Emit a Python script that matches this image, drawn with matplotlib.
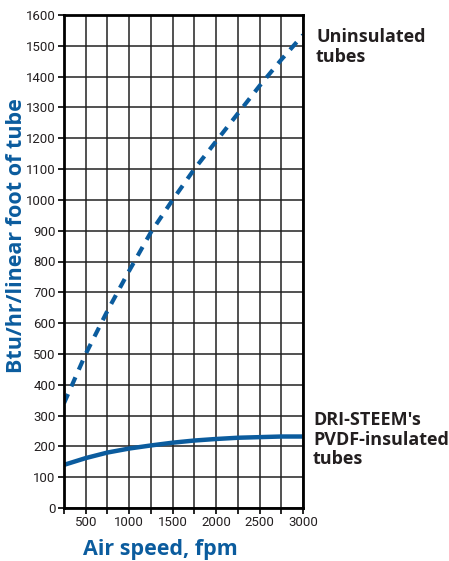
import matplotlib
matplotlib.use("Agg")
import matplotlib.pyplot as plt
import numpy as np

# values
air_speed = [250, 500, 750, 1000, 1250, 1500, 1750, 2000, 2250, 2500, 2750, 3000]
uninsulated = [340, 500, 640, 770, 895, 1000, 1100, 1190, 1280, 1370, 1455, 1535]
insulated = [140, 162, 180, 193, 203, 212, 219, 224, 228, 230, 232, 232]

x_labels = [500, 1000, 1500, 2000, 2500, 3000]
y_ticks = list(range(0, 1700, 100))

blue = '#0b5c9e'
dark = '#231f20'
tick_font = ['Roboto', 'DejaVu Sans']
bold_font = ['Open Sans', 'DejaVu Sans']

fig = plt.figure(figsize=(4.49, 5.61), dpi=100)
ax = fig.add_axes([64 / 449, 1 - 508 / 561, (303 - 64) / 449, (508 - 15) / 561])

ax.plot(air_speed, uninsulated, color=blue, lw=3.0, ls=(0, (2.4, 2.0)), solid_capstyle='butt')
ax.plot(air_speed, insulated, color=blue, lw=3.2, solid_capstyle='butt')

ax.set_xlim(250, 3000)
ax.set_ylim(0, 1600)
ax.set_xticks(np.arange(250, 3001, 250), minor=True)
ax.set_xticks(x_labels)
ax.set_yticks(y_ticks)
ax.grid(True, which='both', color='#222222', lw=1.1)
ax.set_axisbelow(True)
for s in ax.spines.values():
    s.set_linewidth(2.0)
    s.set_color('black')
ax.tick_params(axis='both', which='both', direction='out', length=4, width=1.2, color='black', pad=2)
for lab in ax.get_xticklabels() + ax.get_yticklabels():
    lab.set_family(tick_font)
    lab.set_fontsize(9.5)
    lab.set_color(dark)

fig.text(160 / 449, 1 - 550 / 561, 'Air speed, fpm', ha='center', va='center',
         color=blue, fontsize=15.5, fontweight='bold', family=bold_font)
fig.text(17 / 449, 1 - 236 / 561, 'Btu/hr/linear foot of tube', ha='center', va='center',
         rotation=90, color=blue, fontsize=15.5, fontweight='bold', family=bold_font)

fig.text(316 / 449, 1 - 28 / 561, 'Uninsulated\ntubes', ha='left', va='top',
         color=dark, fontsize=13, fontweight='bold', family=bold_font, linespacing=1.15)
fig.text(313 / 449, 1 - 411 / 561, "DRI-STEEM's\nPVDF-insulated\ntubes", ha='left', va='top',
         color=dark, fontsize=13, fontweight='bold', family=bold_font, linespacing=1.12)

fig.savefig('out.png', dpi=100)
